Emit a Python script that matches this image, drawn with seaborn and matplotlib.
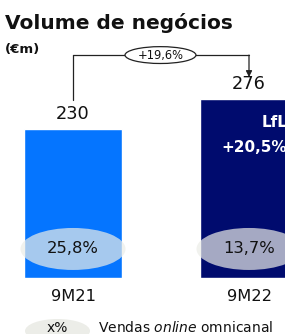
import matplotlib
matplotlib.use("Agg")
import matplotlib.pyplot as plt
from matplotlib.patches import Ellipse
import seaborn as sns
import pandas as pd

# ---- data ----
periods = ["9M21", "9M22"]
values = [230, 276]
online_share = ["25,8%", "13,7%"]
growth_label = "+19,6%"
lfl_label = ["LfL", "+20,5%"]
title = "Volume de negócios"
unit = "(€m)"
legend_label = "Vendas $\\it{online}$ omnicanal"
bar_colors = ["#0575FF", "#000B6E"]

sns.set_theme(style="white")
plt.rcParams["font.family"] = ["DejaVu Sans"]

fig = plt.figure(figsize=(2.85, 3.34), dpi=100)
# axes deliberately extends past the right edge (second bar is cropped)
ax = fig.add_axes([0.0, 56 / 334, 337 / 285, 233.3 / 334])

df = pd.DataFrame({"period": periods, "value": values})
sns.barplot(data=df, x="period", y="value", hue="period",
            palette=bar_colors, width=0.557, legend=False, ax=ax,
            saturation=1)

ax.set_xlim(-0.4148, 1.5)
ax.set_ylim(0, 360)
sns.despine(ax=ax, left=True, bottom=True)
ax.set_yticks([])
ax.set_xlabel("")
ax.set_ylabel("")
ax.tick_params(axis="x", length=0, pad=8, labelsize=11.7, colors="#111111")

# value labels
for cont in ax.containers:
    ax.bar_label(cont, padding=4.5, fontsize=12.8, color="#111111")

# online share ellipses
for i, lab in enumerate(online_share):
    ax.add_patch(Ellipse((i, 44.8), 0.597, 64.8, facecolor="#ECEDE8",
                         alpha=0.7, edgecolor="none", zorder=3))
    ax.text(i, 44.8, lab, ha="center", va="center", fontsize=11.8,
            color="#111111", zorder=4)

# LfL text in second bar
ax.text(1.216, 240.7, lfl_label[0], ha="right", va="center", fontsize=11,
        fontweight="bold", color="white", zorder=4)
ax.text(1.216, 202, lfl_label[1], ha="right", va="center", fontsize=11,
        fontweight="bold", color="white", zorder=4)

# growth bracket
yb = 344
ax.plot([0, 0], [274.7, yb], color="#222222", lw=0.9, clip_on=False)
ax.plot([0, 1], [yb, yb], color="#222222", lw=0.9, clip_on=False)
ax.annotate("", xy=(1, 310), xytext=(1, yb),
            arrowprops=dict(arrowstyle="-|>", color="#222222", lw=0.9,
                            mutation_scale=9, shrinkA=0, shrinkB=0),
            annotation_clip=False)
ax.add_patch(Ellipse((0.497, yb), 0.403, 26, facecolor="white",
                     edgecolor="#222222", lw=0.9, zorder=5, clip_on=False))
ax.text(0.497, yb, growth_label, ha="center", va="center", fontsize=8.3,
        color="#111111", zorder=6)

# title
fig.text(5 / 285, (334 - 29) / 334, title, ha="left", va="baseline",
         fontsize=14.5, fontweight="bold", color="#111111")
fig.text(5 / 285, (334 - 53) / 334, unit, ha="left", va="baseline",
         fontsize=9.5, fontweight="bold", color="#111111")

# legend
fig.patches.append(Ellipse((57.5 / 285, 3 / 334), 65 / 285, 24 / 334,
                           facecolor="#ECEDE8", edgecolor="none",
                           transform=fig.transFigure, figure=fig))
fig.text(57 / 285, 6 / 334, "x%", ha="center", va="center", fontsize=10,
         color="#111111")
fig.text(98 / 285, 6 / 334, legend_label, ha="left", va="center",
         fontsize=10, color="#111111")

fig.savefig("out.png", dpi=100)
